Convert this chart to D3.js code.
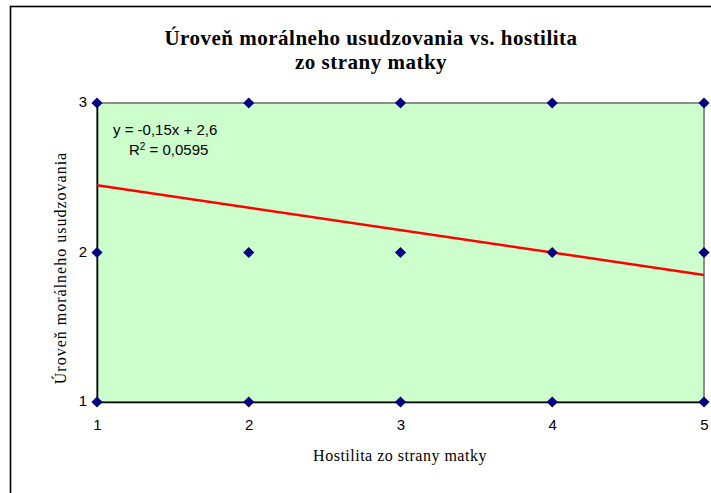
<!DOCTYPE html>
<html>
<head>
<meta charset="utf-8">
<script src="https://cdn.jsdelivr.net/npm/d3@7"></script>
<style>
  html, body { margin: 0; padding: 0; background: #fff; }
  svg { display: block; }
</style>
</head>
<body>
<svg id="chart" width="711" height="493"></svg>
<script>
// Observations: hostility from the mother (x) vs. level of moral reasoning (y)
const hostility = [1, 2, 3, 4, 5, 1, 2, 3, 4, 5, 1, 2, 3, 4, 5];
const moralLevel = [3, 3, 3, 3, 3, 2, 2, 2, 2, 2, 1, 1, 1, 1, 1];

// Linear trend line as reported
const trendSlope = -0.15;
const trendIntercept = 2.6;
const trendRSquared = "0,0595";

const xTicks = [1, 2, 3, 4, 5];
const yTicks = [1, 2, 3];

const titleLines = ["Úroveň morálneho usudzovania vs. hostilita", "zo strany matky"];
const xTitle = "Hostilita zo strany matky";
const yTitle = "Úroveň morálneho usudzovania";

const svg = d3.select("#chart");
const plot = { left: 97, right: 704, top: 103, bottom: 402 };

const x = d3.scaleLinear().domain([1, 5]).range([plot.left, plot.right]);
const y = d3.scaleLinear().domain([1, 3]).range([plot.bottom, plot.top]);

// Outer chart frame
svg.append("rect")
  .attr("x", 10.5).attr("y", 6.5)
  .attr("width", 720).attr("height", 500)
  .attr("fill", "#fff")
  .attr("stroke", "#000").attr("stroke-width", 1.6);

// Plot area
svg.append("rect")
  .attr("x", plot.left).attr("y", plot.top)
  .attr("width", plot.right - plot.left).attr("height", plot.bottom - plot.top)
  .attr("fill", "#ccffcc")
  .attr("stroke", "#8c8c8c").attr("stroke-width", 2);

// Axes
const xAxis = svg.append("g")
  .attr("transform", `translate(0,${plot.bottom})`)
  .call(d3.axisBottom(x).tickValues(xTicks).tickSize(0).tickPadding(17).tickFormat(d3.format("d")));
const yAxis = svg.append("g")
  .attr("transform", `translate(${plot.left},0)`)
  .call(d3.axisLeft(y).tickValues(yTicks).tickSize(0).tickPadding(10).tickFormat(d3.format("d")));

[xAxis, yAxis].forEach(g => {
  g.select(".domain").attr("stroke", "#000").attr("stroke-width", 1.5);
  g.selectAll("text")
    .attr("font-family", "Liberation Sans, Arial, sans-serif")
    .attr("font-size", 15)
    .attr("fill", "#000");
});
yAxis.selectAll("text").attr("dy", "0.25em");

// Trend line
const [x0, x1] = x.domain();
svg.append("line")
  .attr("x1", x(x0)).attr("y1", y(trendSlope * x0 + trendIntercept))
  .attr("x2", x(x1)).attr("y2", y(trendSlope * x1 + trendIntercept))
  .attr("stroke", "#ff0000").attr("stroke-width", 2.5);

// Data points (diamonds: squares turned 45 degrees)
const marker = d3.symbol().type(d3.symbolSquare).size(62);
svg.append("g").selectAll("path")
  .data(hostility.map((h, i) => [h, moralLevel[i]]))
  .join("path")
  .attr("d", marker)
  .attr("transform", d => `translate(${x(d[0])},${y(d[1])}) rotate(45)`)
  .attr("fill", "#000080");

// Trend line equation
const eq = svg.append("g")
  .attr("font-family", "Liberation Sans, Arial, sans-serif")
  .attr("font-size", 15)
  .attr("fill", "#000");
eq.append("text").attr("x", 113).attr("y", 135)
  .text(`y = ${String(trendSlope).replace(".", ",")}x + ${String(trendIntercept).replace(".", ",")}`);
const r2 = eq.append("text").attr("x", 129).attr("y", 155);
r2.append("tspan").text("R");
r2.append("tspan").attr("font-size", 10).attr("dy", -5).text("2");
r2.append("tspan").attr("dy", 5).text(` = ${trendRSquared}`);

// Title
const title = svg.append("text")
  .attr("text-anchor", "middle")
  .attr("font-family", "Liberation Serif, Times New Roman, serif")
  .attr("font-weight", "bold")
  .attr("font-size", 21)
  .attr("letter-spacing", 0.5)
  .attr("fill", "#000");
title.append("tspan").attr("x", 371).attr("y", 45).text(titleLines[0]);
title.append("tspan").attr("x", 371).attr("y", 69).text(titleLines[1]);

// Axis titles
svg.append("text")
  .attr("x", 400).attr("y", 461)
  .attr("text-anchor", "middle")
  .attr("font-family", "Liberation Serif, Times New Roman, serif")
  .attr("font-size", 16)
  .attr("letter-spacing", 0.5)
  .text(xTitle);

svg.append("text")
  .attr("transform", "translate(66,268) rotate(-90)")
  .attr("text-anchor", "middle")
  .attr("font-family", "Liberation Serif, Times New Roman, serif")
  .attr("font-size", 16)
  .attr("letter-spacing", 1)
  .text(yTitle);
</script>
</body>
</html>
